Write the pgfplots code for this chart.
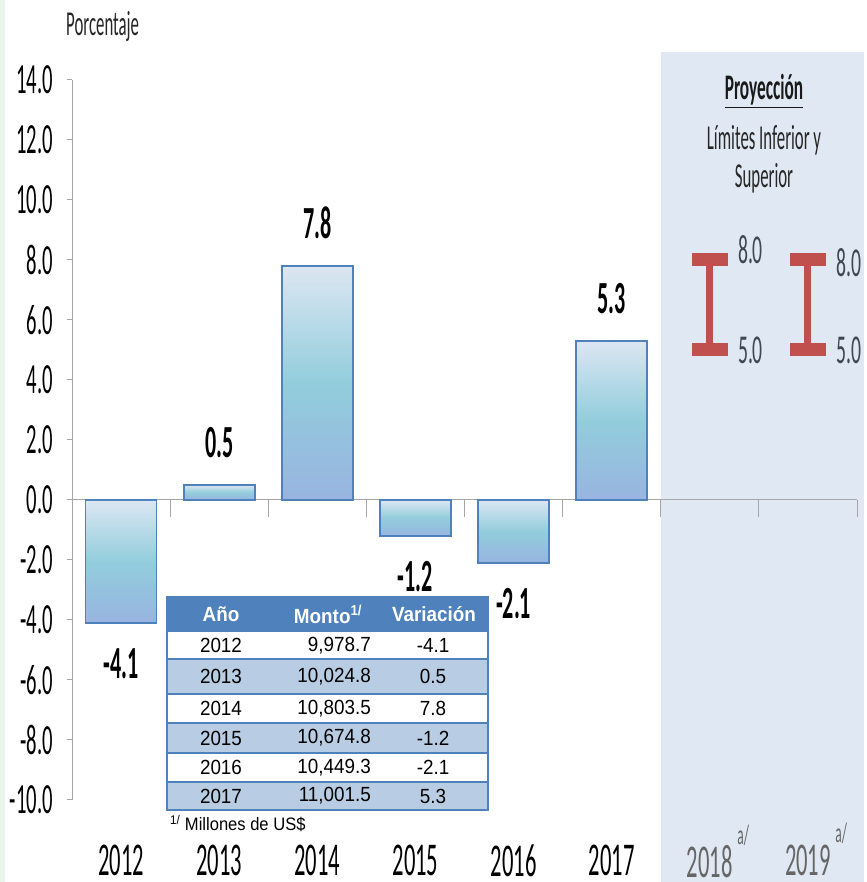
\documentclass[border=0pt]{standalone}
\usepackage{fontspec}
\usepackage{pgfplots}
\pgfplotsset{compat=1.18}
\setmainfont{Carlito}
\newfontfamily\condf[FakeStretch=0.48]{Carlito}
\newfontfamily\arl[FakeStretch=0.92]{Liberation Sans}
\definecolor{bartop}{HTML}{DCE6F2}
\definecolor{barmid}{HTML}{92CDDC}
\definecolor{barbot}{HTML}{98B4E0}
\definecolor{barline}{HTML}{4F81BD}
\definecolor{projbg}{HTML}{E0E8F3}
\definecolor{projred}{HTML}{C0504D}
\definecolor{axgray}{HTML}{A6A6A6}
\definecolor{tblblue}{HTML}{4F81BD}
\definecolor{tblrow}{HTML}{B8CCE4}
\definecolor{lblgray}{HTML}{3F4752}
\definecolor{leftgreen}{HTML}{E9F4EA}
\definecolor{yrgray}{HTML}{666666}
\pgfplotsset{gbar/.style={ybar, bar width=71pt, bar shift=0pt, draw=barline, line width=1.8pt,
  top color=bartop, bottom color=barbot, middle color=barmid, forget plot}}
\newcommand{\yrsup}[1]{\rlap{\raisebox{33pt}[0pt][0pt]{\fontsize{28}{28}\selectfont\,#1}}}
\begin{document}
\begin{tikzpicture}[x=1pt,y=1pt]
\useasboundingbox (0,0) rectangle (866,882);
\fill[white] (0,0) rectangle (866,882);
\fill[leftgreen] (0,0) rectangle (5,882);
\fill[projbg] (661,0) rectangle (864,830);
\begin{axis}[
  at={(72pt,82pt)}, anchor=south west,
  scale only axis, width=785pt, height=720pt,
  xmin=-0.5, xmax=7.5, ymin=-10, ymax=14,
  axis lines*=left,
  x axis line style={draw=none},
  y axis line style={axgray, line width=1pt},
  ytick={-10,-8,...,14},
  yticklabels={-10.0,-8.0,-6.0,-4.0,-2.0,0.0,2.0,4.0,6.0,8.0,10.0,12.0,14.0},
  ytick style={axgray, line width=1pt},
  tick align=outside, major tick length=5pt,
  yticklabel style={font=\condf\fontsize{43}{43}\selectfont, inner sep=0pt, xshift=-14pt, anchor=east, text=black},
  xtick={0,...,7},
  xticklabels={2012,2013,2014,2015,2016,2017,
    {\textcolor{yrgray}{2018\yrsup{a/}}},
    {\textcolor{yrgray}{2019\yrsup{a/}}}},
  xtick style={draw=none},
  xticklabel style={font=\condf\fontsize{47}{47}\selectfont, inner sep=0pt, yshift=-40pt, anchor=north, text=black},
  clip=false,
]
\draw[axgray, line width=1pt] (axis cs:-0.5,0) -- (axis cs:7.5,0);
\draw[axgray, line width=1pt] (axis cs:0.5,0) -- ++(0pt,-17pt);
\draw[axgray, line width=1pt] (axis cs:1.5,0) -- ++(0pt,-17pt);
\draw[axgray, line width=1pt] (axis cs:2.5,0) -- ++(0pt,-17pt);
\draw[axgray, line width=1pt] (axis cs:3.5,0) -- ++(0pt,-17pt);
\draw[axgray, line width=1pt] (axis cs:4.5,0) -- ++(0pt,-17pt);
\draw[axgray, line width=1pt] (axis cs:5.5,0) -- ++(0pt,-17pt);
\draw[axgray, line width=1pt] (axis cs:6.5,0) -- ++(0pt,-17pt);
\draw[axgray, line width=1pt] (axis cs:7.5,0) -- ++(0pt,-17pt);
\addplot[gbar] coordinates {(0,-4.1)};
\addplot[gbar] coordinates {(1,0.5)};
\addplot[gbar] coordinates {(2,7.8)};
\addplot[gbar] coordinates {(3,-1.2)};
\addplot[gbar] coordinates {(4,-2.1)};
\addplot[gbar] coordinates {(5,5.3)};
\addplot[only marks, mark=*, mark size=0pt, mark options={draw=none,fill=none},
  point meta=explicit symbolic, nodes near coords,
  nodes near coords style={anchor=south, inner ysep=27pt, inner xsep=0pt, text=black,
    font=\condf\bfseries\fontsize{46}{46}\selectfont}]
  coordinates {(1,0.5)[0.5] (2,7.8)[7.8] (5,5.3)[5.3]};
\addplot[only marks, mark=*, mark size=0pt, mark options={draw=none,fill=none},
  point meta=explicit symbolic, nodes near coords,
  nodes near coords style={anchor=north, inner ysep=25pt, inner xsep=0pt, text=black,
    font=\condf\bfseries\fontsize{46}{46}\selectfont}]
  coordinates {(0,-4.1)[-4.1] (3,-1.2)[-1.2] (4,-2.1)[-2.1]};
\addplot[draw=none, mark=none,
  error bars/.cd, y dir=both, y explicit,
  error bar style={draw=projred, line width=7pt},
  error mark=|, error mark options={draw=projred, line width=13pt, mark size=18pt}]
  coordinates {(6,6.5) +- (0,1.5) (7,6.5) +- (0,1.5)};
\node[anchor=west, inner sep=0pt, text=lblgray, font=\condf\fontsize{41}{41}\selectfont] at ([xshift=28pt,yshift=10pt]axis cs:6,8) {8.0};
\node[anchor=west, inner sep=0pt, text=lblgray, font=\condf\fontsize{41}{41}\selectfont] at ([xshift=28pt]axis cs:6,5) {5.0};
\node[anchor=west, inner sep=0pt, text=lblgray, font=\condf\fontsize{41}{41}\selectfont] at ([xshift=28pt,yshift=-3pt]axis cs:7,8) {8.0};
\node[anchor=west, inner sep=0pt, text=lblgray, font=\condf\fontsize{41}{41}\selectfont] at ([xshift=28pt]axis cs:7,5) {5.0};
\end{axis}
% labels
\node[anchor=base west, inner sep=0pt, text=black!85, font=\condf\fontsize{35}{35}\selectfont] at (66,846) {Porcentaje};
\node[anchor=base, inner sep=0pt, text=black!90, font=\condf\bfseries\fontsize{36}{36}\selectfont] at (764,782) {\underline{Proyección}};
\node[anchor=base, inner sep=0pt, text=black!85, font=\condf\fontsize{35}{35}\selectfont] at (764,732) {Límites Inferior y};
\node[anchor=base, inner sep=0pt, text=black!85, font=\condf\fontsize{35}{35}\selectfont] at (764,694) {Superior};
% table
\fill[tblblue] (167,250) rectangle (488,285);
\fill[white] (167,223) rectangle (488,250);
\fill[tblrow] (167,188) rectangle (488,223);
\fill[white] (167,159) rectangle (488,188);
\fill[tblrow] (167,129) rectangle (488,159);
\fill[white] (167,100) rectangle (488,129);
\fill[tblrow] (167,72) rectangle (488,100);
\foreach \yy in {223,188,159,129,100} \draw[tblblue, line width=1.5pt] (167,\yy) -- (488,\yy);
\draw[tblblue, line width=2pt] (167,72) rectangle (488,285);
\begin{scope}[every node/.style={inner sep=0pt, font=\arl\fontsize{20.5}{20.5}\selectfont}]
\node[text=white, font=\arl\bfseries\fontsize{20.5}{20.5}\selectfont] at (221,267.5) {Año};
\node[text=white, font=\arl\bfseries\fontsize{20.5}{20.5}\selectfont] at (328,267.5) {Monto\textsuperscript{1/}};
\node[text=white, font=\arl\bfseries\fontsize{20.5}{20.5}\selectfont] at (434,267.5) {Variación};
\node at (221,236.5) {2012}; \node[anchor=east] at (371,236.5) {9,978.7}; \node at (433,236.5) {-4.1};
\node at (221,205.5) {2013}; \node[anchor=east] at (371,205.5) {10,024.8}; \node at (433,205.5) {0.5};
\node at (221,173.5) {2014}; \node[anchor=east] at (371,173.5) {10,803.5}; \node at (433,173.5) {7.8};
\node at (221,144) {2015}; \node[anchor=east] at (371,144) {10,674.8}; \node at (433,144) {-1.2};
\node at (221,114.5) {2016}; \node[anchor=east] at (371,114.5) {10,449.3}; \node at (433,114.5) {-2.1};
\node at (221,86) {2017}; \node[anchor=east] at (371,86) {11,001.5}; \node at (433,86) {5.3};
\end{scope}
\node[anchor=base west, inner sep=0pt, font=\arl\fontsize{18}{18}\selectfont] at (170,51) {\textsuperscript{1/} Millones de US\$};
\end{tikzpicture}
\end{document}
